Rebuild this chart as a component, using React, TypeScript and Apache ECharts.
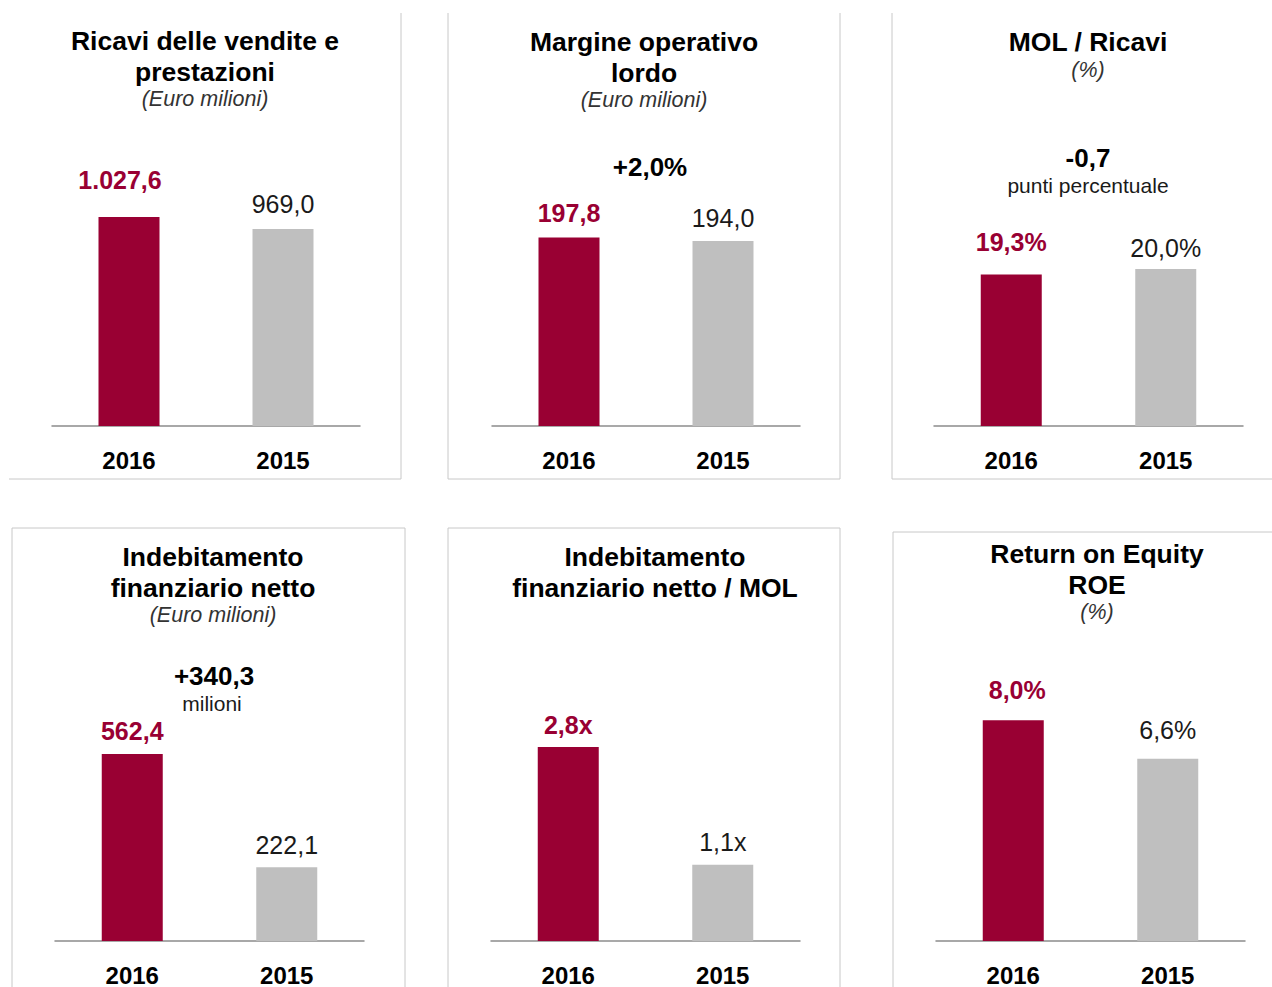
import React, { useEffect, useRef } from "react";
import * as echarts from "echarts";

// ---- data ----
const categories = ["2016", "2015"];
const ricavi = [1027.6, 969.0];
const mol = [197.8, 194.0];
const molSuRicavi = [19.3, 20.0];
const indebitamento = [562.4, 222.1];
const indebitamentoSuMol = [2.8, 1.1];
const roe = [8.0, 6.6];

const titles = [
  ["Ricavi delle vendite e", "prestazioni"],
  ["Margine operativo", "lordo"],
  ["MOL / Ricavi"],
  ["Indebitamento", "finanziario netto"],
  ["Indebitamento", "finanziario netto / MOL"],
  ["Return on Equity", "ROE"],
];
const subtitles = ["(Euro milioni)", "(Euro milioni)", "(%)", "(Euro milioni)", "", "(%)"];

// ---- formatting helpers ----
function itNum(v: number, dec = 1): string {
  const s = Math.abs(v).toFixed(dec);
  const [i, d] = s.split(".");
  const withSep = i.replace(/\B(?=(\d{3})+(?!\d))/g, ".");
  return (v < 0 ? "-" : "") + withSep + (d ? "," + d : "");
}
const fmtNum = (v: number) => itNum(v);
const fmtPct = (v: number) => itNum(v) + "%";
const fmtX = (v: number) => itNum(v) + "x";
const signed = (s: string, v: number) => (v > 0 ? "+" + s : s);

const molGrowth = (mol[0] / mol[1] - 1) * 100;
const marginDelta = molSuRicavi[0] - molSuRicavi[1];
const debtDelta = indebitamento[0] - indebitamento[1];

const panels = [
  { values: ricavi, fmt: fmtNum, yMax: 1500 },
  { values: mol, fmt: fmtNum, yMax: 300 },
  { values: molSuRicavi, fmt: fmtPct, yMax: 40 },
  { values: indebitamento, fmt: fmtNum, yMax: 800 },
  { values: indebitamentoSuMol, fmt: fmtX, yMax: 4 },
  { values: roe, fmt: fmtPct, yMax: 10 },
];

// ---- layout (pixels) ----
const gridLayout = [
  { left: 52, width: 308, top: 121, axisY: 426, cx: 205, titleY: 41, gaps: [25, 12], shift: [-9, 0] },
  { left: 492, width: 308, top: 140, axisY: 426, cx: 644, titleY: 42, gaps: [12, 11], shift: [0, 0] },
  { left: 934, width: 309, top: 112, axisY: 426, cx: 1088, titleY: 42, gaps: [20, 9], shift: [0, 0] },
  { left: 55, width: 309, top: 675, axisY: 942, cx: 213, titleY: 557, gaps: [11, 10], shift: [0, 0] },
  { left: 491, width: 309, top: 664, axisY: 942, cx: 655, titleY: 557, gaps: [10, 10], shift: [0, 0] },
  { left: 936, width: 309, top: 665, axisY: 945, cx: 1097, titleY: 554, gaps: [18, 16], shift: [4, 0] },
];

const FONT = "'Liberation Sans', Arial, Helvetica, sans-serif";
const CRIMSON = "#990033";
const GREY = "#bfbfbf";
const BORDER = "#c8c8c8";

function txt(text: string, x: number, y: number, font: string, fill = "#000") {
  return {
    type: "text",
    x,
    y,
    silent: true,
    style: {
      text,
      font,
      fill,
      textAlign: "center",
      textVerticalAlign: "middle",
      align: "center",
      verticalAlign: "middle",
    },
  };
}

function line(x1: number, y1: number, x2: number, y2: number) {
  return {
    type: "line",
    silent: true,
    shape: { x1, y1, x2, y2 },
    style: { stroke: BORDER, lineWidth: 1 },
  };
}

export default function App() {
  const ref = useRef<HTMLDivElement>(null);

  useEffect(() => {
    if (!ref.current) return;
    const chart = echarts.init(ref.current, undefined, { renderer: "svg" });

    const grids = gridLayout.map((g) => ({
      left: g.left,
      top: g.top,
      width: g.width,
      height: g.axisY - g.top,
      containLabel: false,
    }));

    const xAxes = gridLayout.map((g, i) => ({
      type: "category",
      gridIndex: i,
      data: categories,
      axisTick: { show: false },
      axisLine: { show: true, lineStyle: { color: "#8c8c8c", width: 1.5 } },
      axisLabel: {
        margin: 22,
        fontSize: 24,
        fontWeight: "bold",
        color: "#000",
        fontFamily: FONT,
      },
      splitLine: { show: false },
    }));

    const yAxes = panels.map((p, i) => ({
      type: "value",
      gridIndex: i,
      min: 0,
      max: p.yMax,
      show: false,
      splitLine: { show: false },
    }));

    const series = panels.map((p, i) => ({
      type: "bar",
      xAxisIndex: i,
      yAxisIndex: i,
      barWidth: 61,
      data: p.values.map((v, j) => ({
        value: v,
        itemStyle: { color: j === 0 ? CRIMSON : GREY },
        label: {
          show: true,
          position: "top",
          distance: gridLayout[i].gaps[j],
          offset: [gridLayout[i].shift[j], 0],
          formatter: () => p.fmt(v),
          fontFamily: FONT,
          fontSize: 25,
          fontWeight: j === 0 ? "bold" : "normal",
          color: j === 0 ? CRIMSON : "#1a1a1a",
        },
      })),
    }));

    const graphics: any[] = [];
    // panel borders
    graphics.push(line(401, 13, 401, 479), line(9, 479, 401, 479));
    graphics.push(line(448, 13, 448, 479), line(840, 13, 840, 479), line(448, 479, 840, 479));
    graphics.push(line(892, 13, 892, 479), line(892, 479, 1272, 479));
    graphics.push(line(12, 528, 405, 528), line(12, 528, 12, 987), line(405, 528, 405, 987));
    graphics.push(line(448, 528, 840, 528), line(448, 528, 448, 987), line(840, 528, 840, 987));
    graphics.push(line(893, 532, 1272, 532), line(893, 532, 893, 987));

    const titleFont = `bold 26.5px ${FONT}`;
    const subFont = `italic 21.5px ${FONT}`;
    gridLayout.forEach((g, i) => {
      const lines = titles[i];
      lines.forEach((t, k) => graphics.push(txt(t, g.cx, g.titleY + k * 30.5, titleFont)));
      if (subtitles[i]) {
        const sy = g.titleY + (lines.length - 1) * 30.5 + (lines.length > 1 ? 27.5 : 28);
        graphics.push(txt(subtitles[i], g.cx, sy, subFont, "#333"));
      }
    });

    // change annotations
    graphics.push(txt(signed(itNum(molGrowth) + "%", molGrowth), 650, 167, `bold 26px ${FONT}`));
    graphics.push(txt(signed(itNum(marginDelta), marginDelta), 1088, 158, `bold 26px ${FONT}`));
    graphics.push(txt("punti percentuale", 1088, 185, `21px ${FONT}`, "#1a1a1a"));
    graphics.push(txt(signed(itNum(debtDelta), debtDelta), 214, 676, `bold 26px ${FONT}`));
    graphics.push(txt("milioni", 212, 703, `21px ${FONT}`, "#1a1a1a"));

    chart.setOption({
      animation: false,
      backgroundColor: "#ffffff",
      grid: grids,
      xAxis: xAxes,
      yAxis: yAxes,
      series,
      graphic: { elements: graphics },
    });

    return () => chart.dispose();
  }, []);

  return (
    <div
      ref={ref}
      style={{ position: "absolute", left: 0, top: 0, width: 1272, height: 987 }}
    />
  );
}
